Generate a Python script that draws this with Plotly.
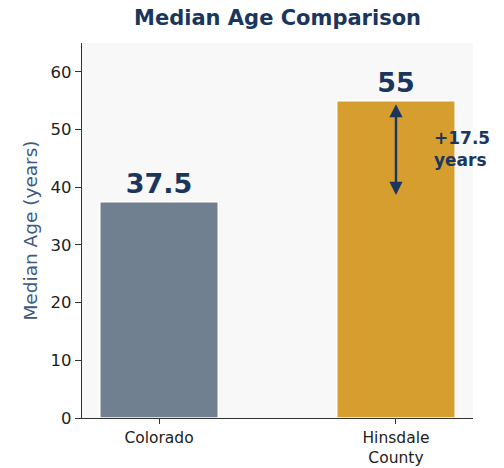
import plotly.graph_objects as go

categories = ["Colorado", "Hinsdale County"]
tick_labels = ["Colorado", "Hinsdale<br>County"]
median_age = [37.5, 55]
value_labels = ["37.5", "55"]
bar_colors = ["#708090", "#D69E2E"]
diff_label = "+17.5<br>years"

NAVY = "#1B365D"
FONT = "DejaVu Sans"

fig = go.Figure()
fig.add_trace(go.Bar(
    x=[0, 1], y=median_age, width=0.5,
    marker=dict(color=bar_colors, line=dict(color="white", width=1.5)),
    text=value_labels, textposition="outside",
    textfont=dict(family=FONT, size=27, color=NAVY),
    texttemplate="<b>%{text}</b>",
    cliponaxis=False,
    hoverinfo="skip",
))

# double-headed difference arrow
fig.add_annotation(
    x=1, y=median_age[1] - 0.6, ax=1, ay=median_age[0] + 0.9,
    xref="x", yref="y", axref="x", ayref="y",
    showarrow=True, arrowhead=2, startarrowhead=2, arrowside="end+start",
    arrowwidth=2.4, arrowsize=1.1, startarrowsize=1.1, arrowcolor=NAVY, text="",
)
fig.add_annotation(
    x=1.15, y=(median_age[0] + median_age[1]) / 2 + 0.3, xref="x", yref="y",
    text="<b>" + diff_label + "</b>", showarrow=False, xanchor="left", align="left",
    font=dict(family=FONT, size=17, color=NAVY),
)

fig.update_layout(
    width=504, height=468,
    margin=dict(l=82, r=31, t=43, b=50),
    paper_bgcolor="white", plot_bgcolor="#F8F8F8",
    showlegend=False,
    title=dict(text="<b>Median Age Comparison</b>", x=0.5507, xanchor="center",
               y=0.962, yanchor="middle",
               font=dict(family=FONT, size=21, color=NAVY)),
    font=dict(family=FONT, size=16, color="#222222"),
)
fig.update_xaxes(
    range=[-0.325, 1.325], tickmode="array", tickvals=[0, 1], ticktext=tick_labels,
    showgrid=False, zeroline=False, showline=True, linecolor="#333333", linewidth=1.3,
    ticks="outside", ticklen=5, tickcolor="#333333", automargin=False,
    tickfont=dict(family=FONT, size=15.5, color="#222222"),
)
fig.update_yaxes(
    range=[0, 65], tickmode="array", tickvals=[0, 10, 20, 30, 40, 50, 60],
    showgrid=False, zeroline=False, showline=True, linecolor="#333333", linewidth=1.3,
    ticks="outside", ticklen=6, tickcolor="#333333", automargin=False,
    tickfont=dict(family=FONT, size=16.5, color="#222222"),
    title=dict(text="Median Age (years)", font=dict(family=FONT, size=18.5, color="#3D5A80"), standoff=8),
)

fig.write_html("out.html")
